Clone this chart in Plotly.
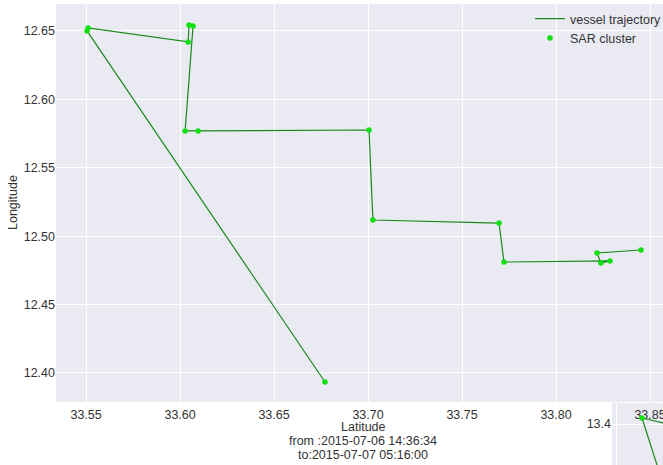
import plotly.graph_objects as go

# Main trajectory (latitude on x, longitude on y), in time order
lat = [33.6771, 33.5505, 33.5511, 33.6043, 33.6048, 33.6069, 33.6027, 33.6096,
       33.7005, 33.7026, 33.7697, 33.7723, 33.8287, 33.8239, 33.8218, 33.8452]
lon = [12.3934, 12.6500, 12.6522, 12.6420, 12.6544, 12.6537, 12.5769, 12.5769,
       12.5776, 12.5118, 12.5096, 12.4811, 12.4819, 12.4804, 12.4877, 12.4899]

# Partially visible second panel (bottom-right)
inset_lat = [33.928, 33.852, 33.8916]
inset_lon = [13.394, 13.412, 13.288]
inset_pt_lat = [33.852]
inset_pt_lon = [13.412]

x_ticks = [33.55, 33.60, 33.65, 33.70, 33.75, 33.80, 33.85]
y_ticks = [12.40, 12.45, 12.50, 12.55, 12.60, 12.65]

LINE = "#1a881a"
PT = "#11e011"
BG = "#EAEAF2"
TXT = "#333333"
FONT = "Liberation Sans"

fig = go.Figure()
fig.add_trace(go.Scatter(x=lat, y=lon, mode="lines", name="vessel trajectory",
                         line=dict(color=LINE, width=1.2), xaxis="x", yaxis="y"))
fig.add_trace(go.Scatter(x=lat, y=lon, mode="markers", name="SAR cluster",
                         marker=dict(color=PT, size=5.5), xaxis="x", yaxis="y"))
fig.add_trace(go.Scatter(x=inset_lat, y=inset_lon, mode="lines", showlegend=False,
                         line=dict(color=LINE, width=1.2), xaxis="x2", yaxis="y2"))
fig.add_trace(go.Scatter(x=inset_pt_lat, y=inset_pt_lon, mode="markers", showlegend=False,
                         marker=dict(color=PT, size=5.5), xaxis="x2", yaxis="y2"))

W, H = 663, 465
L, T = 56, 4
pw, ph = W - L, H - T

def px_x(p):
    return (p - L) / pw

def px_y(p):
    return (H - p) / ph

fig.update_layout(
    width=W, height=H,
    margin=dict(l=L, r=0, t=T, b=0, autoexpand=False),
    paper_bgcolor="white",
    plot_bgcolor=BG,
    font=dict(family=FONT, size=12, color=TXT),
    showlegend=True,
    legend=dict(x=px_x(530), y=px_y(4), xanchor="left", yanchor="top",
                bgcolor="rgba(0,0,0,0)", font=dict(size=12.5, color=TXT),
                itemwidth=30, tracegroupgap=0),
    xaxis=dict(domain=[0, 1], range=[33.534, 33.8569], tickvals=x_ticks,
               tickformat=".2f", showgrid=True, gridcolor="white", gridwidth=1,
               zeroline=False, showline=False, ticks="", anchor="y",
               ticklabeloverflow="allow", tickfont=dict(size=12.5), ticklabelstandoff=3),
    yaxis=dict(domain=[px_y(402), 1], range=[12.3788, 12.6697], tickvals=y_ticks,
               tickformat=".2f", showgrid=True, gridcolor="white", gridwidth=1,
               zeroline=False, showline=False, ticks="", anchor="x",
               tickfont=dict(size=12.5)),
    xaxis2=dict(domain=[px_x(612), 1], range=[33.792, 33.894], dtick=0.1, tick0=33.8,
                showgrid=True, gridcolor="white", zeroline=False, showline=False,
                showticklabels=False, ticks="", anchor="y2"),
    yaxis2=dict(domain=[0, px_y(403)], range=[13.318, 13.442], dtick=0.1, tick0=13.4,
                tickformat=".1f", showgrid=True, gridcolor="white", zeroline=False,
                showline=False, ticks="", anchor="x2", tickfont=dict(size=12.5)),
    annotations=[
        dict(text="Latitude", x=px_x(363), y=px_y(427), xref="paper", yref="paper",
             showarrow=False, xanchor="center", yanchor="middle", font=dict(size=12.5)),
        dict(text="from :2015-07-06 14:36:34", x=px_x(363), y=px_y(441), xref="paper",
             yref="paper", showarrow=False, xanchor="center", yanchor="middle",
             font=dict(size=12.5)),
        dict(text="to:2015-07-07 05:16:00", x=px_x(363), y=px_y(455), xref="paper",
             yref="paper", showarrow=False, xanchor="center", yanchor="middle",
             font=dict(size=12.5)),
        dict(text="Longitude", x=px_x(13), y=px_y(203), xref="paper", yref="paper",
             showarrow=False, xanchor="center", yanchor="middle", textangle=-90,
             font=dict(size=12.5)),
    ],
)

fig.write_html("out.html",
               config={"displayModeBar": False},
               post_script="document.body.style.margin='0px';"
                           "document.body.style.overflow='hidden';")
